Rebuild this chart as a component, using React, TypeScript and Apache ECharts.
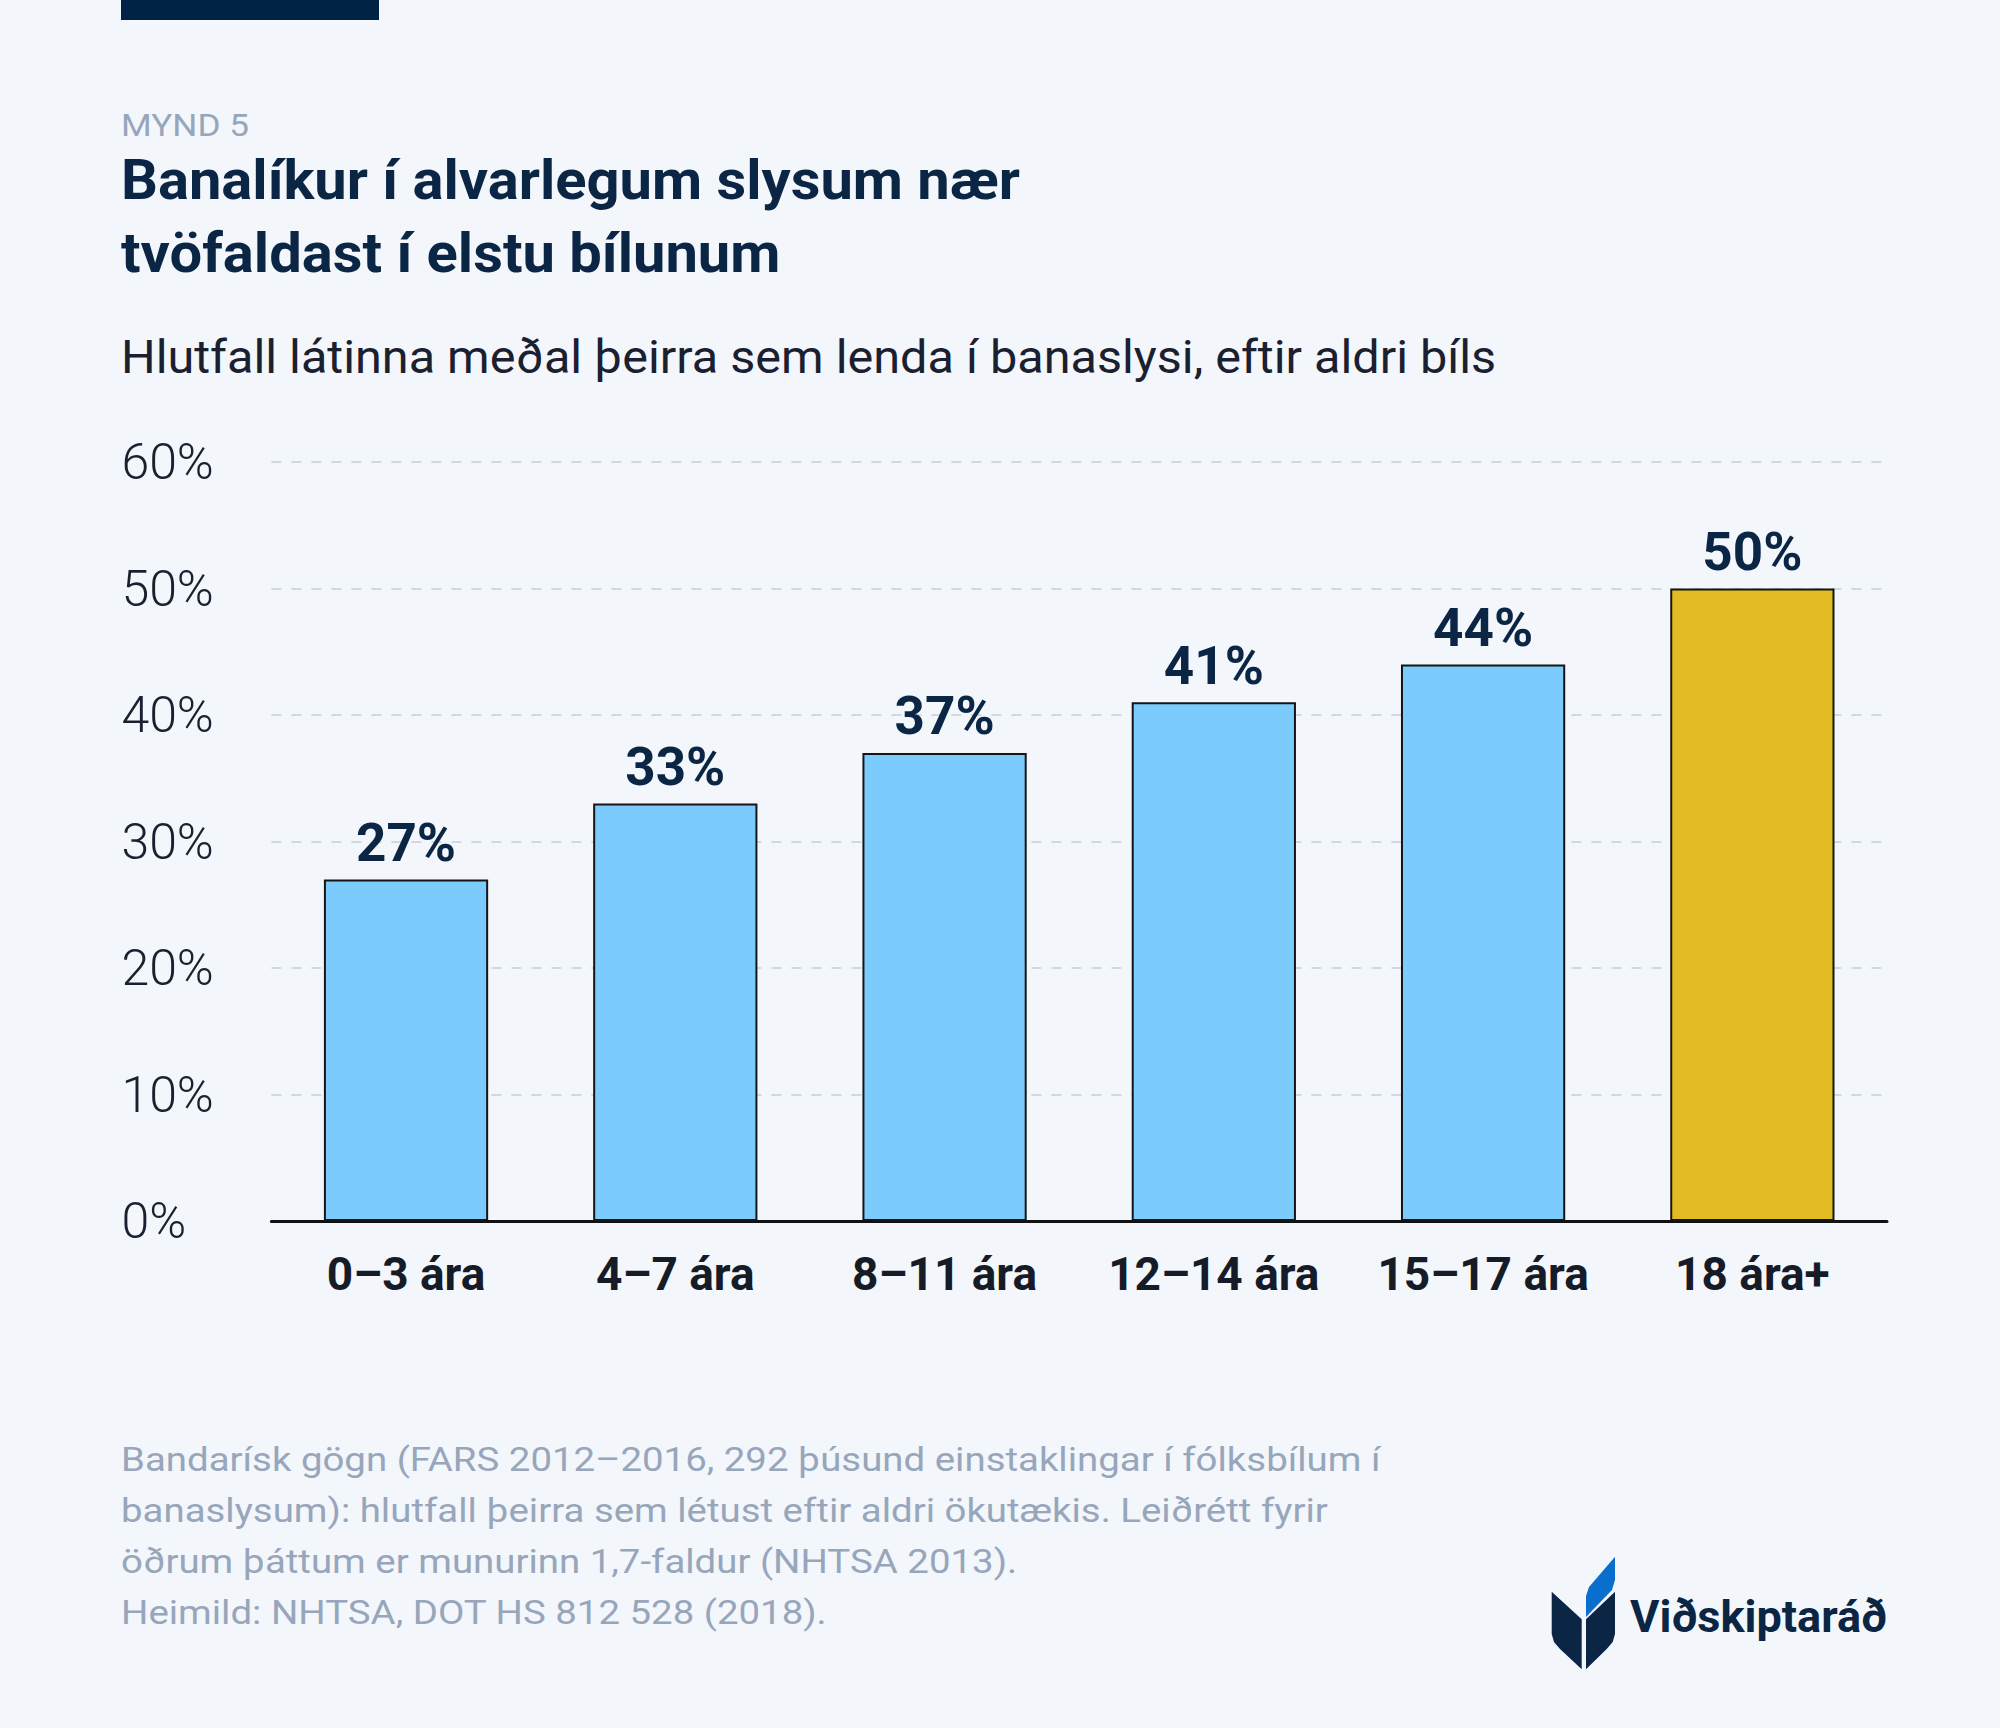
import React, { useEffect, useRef } from 'react';
import * as echarts from 'echarts';

const categories = ['0–3 ára', '4–7 ára', '8–11 ára', '12–14 ára', '15–17 ára', '18 ára+'];
const values = [27, 33, 37, 41, 44, 50];
const highlighted = [false, false, false, false, false, true];
const yMin = 0;
const yMax = 60;
const yStep = 10;

const figureLabel = 'MYND 5';
const titleLines = ['Banalíkur í alvarlegum slysum nær', 'tvöfaldast í elstu bílunum'];
const subtitle = 'Hlutfall látinna meðal þeirra sem lenda í banaslysi, eftir aldri bíls';
const footLines = [
  'Bandarísk gögn (FARS 2012–2016, 292 þúsund einstaklingar í fólksbílum í',
  'banaslysum): hlutfall þeirra sem létust eftir aldri ökutækis. Leiðrétt fyrir',
  'öðrum þáttum er munurinn 1,7-faldur (NHTSA 2013).',
  'Heimild: NHTSA, DOT HS 812 528 (2018).',
];
const brand = 'Viðskiptaráð';

const FONT = 'Roboto, "Noto Sans", sans-serif';
const BG = '#F3F6FB';
const NAVY = '#0B2545';
const GREY = '#97A6BB';
const BLUE = '#7CCBFD';
const YELLOW = '#E1BC22';

function measure(text: string, fs: number, weight: number | string): number {
  const c = document.createElement('canvas').getContext('2d');
  if (!c) return text.length * fs * 0.5;
  c.font = `${weight} ${fs}px ${FONT}`;
  return c.measureText(text).width;
}

function textEl(text: string, x: number, baseline: number, fs: number, weight: number | string, color: string, scaleX: number) {
  return {
    type: 'text',
    x,
    y: baseline - 0.34 * fs,
    scaleX,
    scaleY: 1,
    silent: true,
    style: {
      text,
      fontSize: fs,
      fontWeight: weight,
      fontFamily: FONT,
      fill: color,
      align: 'left',
      verticalAlign: 'middle',
    },
  };
}

export default function App() {
  const ref = useRef<HTMLDivElement>(null);
  useEffect(() => {
    if (!ref.current) return;
    const chart = echarts.init(ref.current, undefined, { renderer: 'svg' });

    const titleFs = 56;
    const titleScale = 899 / measure(titleLines[0], titleFs, 700);
    const subFs = 46;
    const subScale = 1375 / measure(subtitle, subFs, 400);
    const myndFs = 32;
    const myndScale = 128 / measure(figureLabel, myndFs, 400);
    const footFs = 33;
    const footScale = 1260 / measure(footLines[0], footFs, 400);
    const brandFs = 45;
    const brandScale = 257 / measure(brand, brandFs, 700);

    const graphics: any[] = [
      { type: 'rect', shape: { x: 121, y: 0, width: 258, height: 20 }, style: { fill: '#002244' }, silent: true },
      textEl(figureLabel, 121, 136, myndFs, 400, GREY, myndScale),
      textEl(titleLines[0], 121, 199, titleFs, 700, NAVY, titleScale),
      textEl(titleLines[1], 121, 272, titleFs, 700, NAVY, titleScale),
      textEl(subtitle, 121, 373, subFs, 400, '#1A2030', subScale),
      ...footLines.map((l, i) => textEl(l, 121, 1471 + i * 51, footFs, 400, GREY, footScale)),
      textEl(brand, 1630, 1632, brandFs, 700, NAVY, brandScale),
      {
        type: 'polygon',
        silent: true,
        shape: {
          points: [
            [1551.7, 1591.7], [1581.7, 1619.3], [1581.7, 1669.3], [1560, 1649], [1554, 1642], [1551.7, 1634],
          ],
        },
        style: { fill: NAVY },
      },
      {
        type: 'polygon',
        silent: true,
        shape: {
          points: [
            [1586, 1619.3], [1615, 1591.7], [1615, 1634], [1612.7, 1642], [1606.7, 1649], [1586, 1669.3],
          ],
        },
        style: { fill: NAVY },
      },
      {
        type: 'polygon',
        silent: true,
        shape: {
          points: [
            [1586, 1617], [1586, 1596], [1589, 1587], [1615, 1556.7], [1615, 1580], [1612, 1590],
          ],
        },
        style: { fill: '#0A6FCC' },
      },
    ];

    chart.setOption({
      animation: false,
      backgroundColor: BG,
      grid: { left: 271.4, right: 113, top: 462, bottom: 507, containLabel: false },
      xAxis: {
        type: 'category',
        data: categories,
        axisLine: { show: true, lineStyle: { color: '#111111', width: 3 } },
        axisTick: { show: false },
        axisLabel: {
          interval: 0,
          margin: 30,
          fontFamily: FONT,
          fontSize: 46,
          fontWeight: 700,
          color: '#161B28',
        },
        splitLine: { show: false },
      },
      yAxis: {
        type: 'value',
        min: yMin,
        max: yMax,
        interval: yStep,
        axisLine: { show: false },
        axisTick: { show: false },
        axisLabel: {
          formatter: '{value}%',
          align: 'left',
          margin: 150,
          fontFamily: FONT,
          fontSize: 50,
          fontWeight: 300,
          color: '#1A2030',
        },
        splitLine: {
          show: true,
          lineStyle: { color: '#D0D8E2', width: 2, type: [10, 10] },
        },
      },
      series: [
        {
          type: 'bar',
          barWidth: '61%',
          data: values.map((v, i) => ({
            value: v,
            itemStyle: {
              color: highlighted[i] ? YELLOW : BLUE,
              borderColor: '#151515',
              borderWidth: 2,
            },
          })),
          label: {
            show: true,
            position: 'top',
            distance: 10,
            formatter: '{c}%',
            fontFamily: FONT,
            fontSize: 53,
            fontWeight: 700,
            color: NAVY,
          },
        },
      ],
      graphic: { elements: graphics },
    });

    return () => chart.dispose();
  }, []);

  return (
    <div
      ref={ref}
      style={{ position: 'absolute', left: 0, top: 0, width: 2000, height: 1728, background: BG }}
    />
  );
}
